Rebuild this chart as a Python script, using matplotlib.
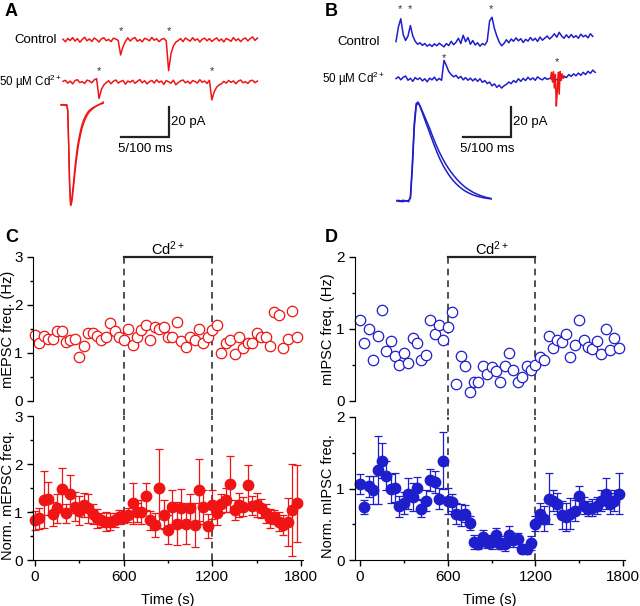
import numpy as np
import matplotlib.pyplot as plt

plt.rcParams['font.family'] = ['Liberation Sans', 'DejaVu Sans']
plt.rcParams['mathtext.fontset'] = 'custom'
plt.rcParams['mathtext.rm'] = 'Liberation Sans'
plt.rcParams['mathtext.default'] = 'regular'

RED = '#f01414'
BLUE = '#1e1ecc'

# ---- raw traces (pA, sampled every 5 ms) ----
DT_RAW = 5.0
a_ctrl = [0.5, -1.2, 1.0, -0.4, 1.6, -0.8, 0.9, -1.5, 0.3, 1.8, -0.6, 0.7, -1.0, 1.3, 0.2, -1.4,
          0.8, 1.5, -0.5, 0.4, -1.1, 1.2, 0.6, -0.3, -10.0, -4.5, -1.0, 1.4, -0.7, 0.9, 1.6, -0.9,
          0.3, -1.3, 1.1, 0.5, -0.6, 1.7, -0.2, 0.8, -1.2, 0.4, 1.0, -0.5, -20.5, -9.0, -4.0, -1.5,
          -0.4, 0.9, -1.1, 1.3, 0.2, -0.8, 1.5, -0.3, 0.7, -1.4, 0.5, 1.2, -0.6, 0.9, -1.0, 0.3,
          1.4, -0.7, 0.6, -1.3, 1.0, 0.2, -0.9, 1.6, -0.4, 0.8, -1.1, 0.5, 1.3, -0.6, 0.9, 2.0,
          -0.3, 1.2]
a_cd = [0.4, 1.1, -0.8, 0.6, -1.3, 0.9, 1.5, -0.4, 0.2, -1.0, 1.2, 0.7, -0.6, 1.4, 2.2, -11.0,
        -5.0, -2.0, -0.5, 0.8, -1.2, 0.5, 1.3, -0.7, 0.3, 1.0, -1.5, 0.6, -0.2, 1.1, -0.9, 0.4,
        1.6, -0.5, 0.8, -1.3, 0.2, 1.0, -0.7, 1.4, -0.3, 0.6, -1.6, 0.9, 0.1, -0.8, 1.2, -1.9,
        -0.4, 0.7, 1.3, -0.6, 0.5, -1.1, 0.9, 0.3, -0.7, 1.5, -0.2, 0.6, -1.0, 1.1, -12.0, -6.5,
        -3.5, -2.0, -1.2, 0.4, -0.8, 1.0, -0.3, 0.7, -1.2, 0.5, 1.3, -0.6, 0.2, -1.0, 0.8, 1.1,
        -0.5, 0.6]
a_ctrl_stars = [120, 220]
a_cd_stars = [75, 310]

b_ctrl = [0.3, 10, 15.5, 5, 1, 4, 11, 4, 0.5, -1.5, -0.5, -2.2, -1, -2.8, -1.5, -3, -1.2, -2.5,
          -0.8, -2, -3.2, -1, -2.4, 0.5, -1.8, -0.2, 2.5, -1, 4.5, 0.2, 3, -1.5, 1, -2, -0.5,
          -2.8, -1, -2, 0.5, 14, 16.5, 9, 4, 0, -2.5, -1, 1.5, -0.5, 2, 0.5, 2.8, 0.8, 2.2, -0.3,
          1.8, 0.6, 3, 1, 2.5, 0.4, 3.3, 1.2, 2.6, 4, 2, 3.5, 5.5, 3.2, 6.5, 4, 2.5, 4.8, 2.8, 5,
          3, 4.2, 2.5, 5.2, 3.5, 4.5, 2.8, 5.5, 3.8]
b_cd = [0.3, 1.5, -0.5, 1.2, 2, -0.8, 0.5, -1.5, 1, -0.3, 0.8, -1.2, 0.2, -1.8, 0.6, -0.5, 1.3,
        -1, 0.4, -0.8, 12.5, 9, 5, 3, 1.5, 2.5, 0.5, 1.8, -0.5, 1, -0.8, 0.6, -1.2, 0.3, -1.5,
        0.2, -2.2, -1, -3, -2, -4.5, -3.2, -5.5, -4, -6, -4.5, -3.5, -2, -3, -1, -2.2, 0.2, -1.5,
        0.5, -1, 1.2, -0.5, 0.8, -0.8, 1.5, 0.2, -0.5, 1, -0.2, 0.5, 0, 0.5, -0.5, 0.3, 0.8, 2,
        1, 3, 1.8, 3.5, 2.2, 4, 2.5, 4.5, 3, 5.2, 3.8, 6, 4.5]
b_ctrl_stars = [8, 29, 198]
b_cd_stars = [100]
# red (mEPSC) piece inside the Cd trace, 2 ms samples from 322 ms
b_red_t0 = 322
b_red = [0.5, 4.5, -2, 5, -6, 3, -18, -8, 4.5, -10, 5, -1, 3.5, 0.5, 1]

# ---- averaged events ----
a_avg1 = [0.3, -0.2, 0.1, 0.4, -0.3, 0.2, 0, -3, -25, -52, -66, -64, -58, -52, -45, -39, -33.5,
          -28.5, -24.5, -21, -18, -15.3, -13, -11, -9.3, -7.9, -6.7, -5.6, -4.7, -3.9, -3.3,
          -2.8, -2.3, -1.9, -1.5, -1.1, -0.8, -0.5, -0.2, 0.1, 0.4, 0.8, 1.1, 1.5, 2.0]
a_avg2 = [0.1, 0.3, -0.2, 0.2, 0.0, -0.3, 0.2, -4, -28, -55, -67, -65.5, -61, -55, -48.5, -42.5,
          -37, -32, -27.5, -24, -20.8, -17.8, -15.3, -13.2, -11.4, -9.8, -8.4, -7.2, -6.1,
          -5.2, -4.4, -3.7, -3.1, -2.5, -2.0, -1.5, -1.1, -0.7, -0.3, 0.0, 0.3, 0.6, 0.8, 1.0, 1.2]
b_avg1 = [0, 0.5, -0.4, 0.6, -0.2, 0.3, -0.5, 3, 25, 52, 65, 66, 63, 59.5, 56, 52.5, 49, 45.5,
          42, 38.5, 35.2, 32, 29, 26.3, 23.8, 21.5, 19.4, 17.5, 15.7, 14.1, 12.6, 11.3, 10.1,
          9.0, 8.0, 7.1, 6.3, 5.6, 5.0, 4.4, 3.9, 3.5, 3.1, 2.8, 2.5, 2.2, 2.0, 1.8, 1.6, 1.4]
b_avg2 = [0.4, -0.3, 0.2, -0.5, 0.4, -0.1, 0.2, 2, 22, 49, 63.5, 65.5, 63.5, 60.5, 57.5, 54.5,
          51.5, 48.5, 45, 41.8, 38.6, 35.6, 32.8, 30.2, 27.8, 25.5, 23.4, 21.4, 19.6, 17.9, 16.3,
          14.8, 13.4, 12.1, 10.9, 9.8, 8.8, 7.9, 7.1, 6.3, 5.6, 5.0, 4.4, 3.9, 3.4, 3.0, 2.6,
          2.3, 2.0, 1.7]

# ---- frequency time courses (30 s bins) ----
time = np.arange(0, 1800, 30)
mepsc_freq = [1.375, 1.20, 1.35, 1.3, 1.3, 1.45, 1.46, 1.22, 1.28, 1.3, 0.92, 1.15, 1.42, 1.41,
              1.35, 1.27, 1.34, 1.62, 1.45, 1.34, 1.27, 1.51, 1.17, 1.34, 1.48, 1.58, 1.27, 1.55,
              1.51, 1.55, 1.34, 1.34, 1.65, 1.24, 1.12, 1.34, 1.27, 1.51, 1.2, 1.34, 1.48, 1.58,
              1.0, 1.2, 1.27, 0.98, 1.34, 1.1, 1.2, 1.2, 1.41, 1.34, 1.33, 1.15, 1.86, 1.79, 1.1,
              1.3, 1.875, 1.34]
mepsc_norm = [0.83, 0.87, 1.26, 1.28, 0.96, 1.08, 1.47, 0.97, 1.38, 1.11, 1.03, 1.15, 1.08, 0.96,
              0.87, 0.83, 0.8, 0.8, 0.83, 0.9, 0.9, 0.94, 1.18, 0.99, 1.0, 1.33, 0.83, 0.73, 1.49,
              0.94, 0.63, 1.11, 0.76, 1.08, 0.76, 1.08, 0.73, 1.46, 1.11, 0.71, 1.15, 0.97, 1.17,
              1.25, 1.58, 1.04, 1.15, 1.11, 1.56, 1.13, 1.15, 1.08, 0.97, 0.87, 0.9, 0.8, 0.73,
              0.8, 1.04, 1.18]
mepsc_err = [0.2, 0.22, 0.6, 0.35, 0.25, 0.3, 0.45, 0.2, 0.4, 0.3, 0.3, 0.25, 0.3, 0.2, 0.2, 0.15,
             0.2, 0.18, 0.15, 0.15, 0.12, 0.15, 0.42, 0.2, 0.25, 0.28, 0.2, 0.25, 0.82, 0.3, 0.3,
             0.35, 0.45, 0.4, 0.42, 0.3, 0.45, 0.65, 0.35, 0.25, 0.3, 0.25, 0.2, 0.25, 0.58, 0.2,
             0.25, 0.2, 0.42, 0.2, 0.25, 0.2, 0.2, 0.2, 0.15, 0.2, 0.2, 0.5, 0.95, 0.8]
mipsc_freq = [1.13, 0.80, 1.0, 0.57, 0.9, 1.26, 0.69, 0.83, 0.62, 0.5, 0.67, 0.53, 0.87, 0.8,
              0.57, 0.64, 1.13, 0.93, 1.06, 0.85, 1.03, 1.24, 0.24, 0.62, 0.48, 0.12, 0.27, 0.27,
              0.48, 0.38, 0.47, 0.41, 0.27, 0.48, 0.66, 0.43, 0.27, 0.34, 0.48, 0.43, 0.5, 0.61,
              0.57, 0.9, 0.73, 0.85, 0.82, 0.93, 0.61, 0.78, 1.12, 0.85, 0.75, 0.72, 0.84, 0.65,
              1.0, 0.71, 0.87, 0.73]
mipsc_norm = [1.06, 0.74, 1.03, 0.98, 1.26, 1.39, 1.18, 1.0, 1.01, 0.75, 0.8, 0.93, 0.88, 1.01,
              0.72, 0.83, 1.12, 1.09, 0.86, 1.39, 0.83, 0.81, 0.65, 0.63, 0.65, 0.52, 0.25, 0.23,
              0.32, 0.25, 0.25, 0.35, 0.23, 0.23, 0.35, 0.28, 0.3, 0.16, 0.15, 0.24, 0.51, 0.65,
              0.58, 0.86, 0.83, 0.79, 0.63, 0.6, 0.65, 0.69, 0.89, 0.76, 0.72, 0.73, 0.76, 0.83,
              0.93, 0.79, 0.83, 0.93]
mipsc_err = [0.14, 0.1, 0.15, 0.2, 0.48, 0.24, 0.2, 0.2, 0.2, 0.15, 0.15, 0.22, 0.2, 0.15, 0.12,
             0.15, 0.15, 0.15, 0.15, 0.4, 0.18, 0.12, 0.15, 0.15, 0.12, 0.1, 0.1, 0.08, 0.1, 0.08,
             0.1, 0.1, 0.08, 0.1, 0.12, 0.1, 0.08, 0.06, 0.06, 0.1, 0.1, 0.15, 0.18, 0.35, 0.15,
             0.15, 0.2, 0.2, 0.22, 0.15, 0.15, 0.12, 0.1, 0.12, 0.12, 0.15, 0.22, 0.15, 0.15, 0.28]

CD_START, CD_END = 600, 1200
CD_TEXT = 'Cd$^{2+}$'

W, H = 640, 606
fig = plt.figure(figsize=(W / 100, H / 100), dpi=100)


def box(x0, y0, x1, y1):
    # axes placed by pixel edges (top-left origin)
    return fig.add_axes([x0 / W, 1 - y1 / H, (x1 - x0) / W, (y1 - y0) / H])


def star(ax, t, y):
    ax.text(t, y, '*', ha='center', va='center', fontsize=8, color='#333333')


def raw_panel(ax, ctrl, cd, cd_off, color, ctrl_stars, cd_stars, star_dy, bar_x, bar_y, lab_x):
    t1 = np.arange(len(ctrl)) * DT_RAW
    t2 = np.arange(len(cd)) * DT_RAW
    ax.plot(t1, ctrl, color=color, lw=1.1)
    ax.plot(t2, np.array(cd) + cd_off, color=color, lw=1.1)
    for t in ctrl_stars:
        star(ax, t, star_dy[0])
    for t in cd_stars:
        star(ax, t, cd_off + star_dy[1])
    # scale bar: 100 ms / 20 pA
    ax.plot([bar_x, bar_x + 100, bar_x + 100], [bar_y, bar_y, bar_y + 20], color='#222222', lw=1.6,
            solid_joinstyle='miter')
    ax.text(bar_x + 104, bar_y + 10, '20 pA', fontsize=9.5, va='center', ha='left')
    ax.text(bar_x + 50, bar_y - 4, '5/100 ms', fontsize=9.5, va='top', ha='center')
    ax.text(lab_x[0], 0, 'Control', fontsize=9.5, ha='right', va='center')
    ax.text(lab_x[1], cd_off, '50 µM ' + CD_TEXT, fontsize=8.4, ha='right', va='center')
    ax.axis('off')


# A
axA = box(55, 20, 265, 140)
axA.set_xlim(-16.7, 420.8)
axA.set_ylim(-66.7, 13.3)
raw_panel(axA, a_ctrl, a_cd, -28, RED, a_ctrl_stars, a_cd_stars, (6, 7),
          121, -64.7, (-12.5, -1.5))
axAa = box(55, 95, 115, 215)
axAa.set_xlim(-0.625, 5.625)
axAa.set_ylim(-73.3, 6.67)
axAa.plot(np.arange(len(a_avg1)) * 0.1, a_avg1, color=RED, lw=1)
axAa.plot(np.arange(len(a_avg2)) * 0.1, a_avg2, color=RED, lw=1)
axAa.axis('off')

# B
axB = box(385, 0, 600, 140)
axB.set_xlim(-22.9, 425)
axB.set_ylim(-65.3, 28)
raw_panel(axB, b_ctrl, b_cd, -24.7, BLUE, b_ctrl_stars, b_cd_stars, (22, 14),
          140, -63.3, (-33, -23))
axB.plot(b_red_t0 + np.arange(len(b_red)) * 2.0, np.array(b_red) - 24.7, color=RED, lw=1.1)
star(axB, b_red_t0 + 14, -24.7 + 11)
axBa = box(385, 95, 500, 215)
axBa.set_xlim(-1.25, 10.73)
axBa.set_ylim(-9.3, 70.7)
axBa.plot(np.arange(len(b_avg1)) * 0.2, b_avg1, color=BLUE, lw=1.1)
axBa.plot(np.arange(len(b_avg2)) * 0.2, b_avg2, color=BLUE, lw=1.1)
axBa.axis('off')


def style(ax, top, ymax):
    for s in ['top', 'right']:
        ax.spines[s].set_visible(False)
    ax.set_ylim(0, ymax)
    ax.set_yticks(np.arange(0, ymax + 0.1, 1))
    ax.set_yticks(np.arange(0.5, ymax, 1), minor=True)
    ax.tick_params(direction='out', labelsize=11, length=4, width=1)
    ax.tick_params(which='minor', direction='out', length=2.5, width=1)
    if top:
        ax.spines['bottom'].set_visible(False)
        ax.set_xticks([])
    else:
        ax.set_xticks([0, 600, 1200, 1800])
        ax.set_xticks([300, 900, 1500], minor=True)
        ax.set_xlabel('Time (s)', fontsize=10.5, labelpad=6)


def cd_marks(ax_top, ax_bot, ymax, gap):
    ax_top.plot([CD_START, CD_END], [ymax, ymax], color='#222222', lw=1.6, clip_on=False)
    ax_top.text((CD_START + CD_END) / 2, ymax * 1.06, CD_TEXT, ha='center', va='center', fontsize=10.5)
    for x in (CD_START, CD_END):
        ax_top.plot([x, x], [ymax, -gap], color='#333333', lw=1.2, ls=(0, (4, 3)), clip_on=False)
        ax_bot.axvline(x, color='#333333', lw=1.2, ls=(0, (4, 3)))


# C
axC1 = box(33, 257, 303, 401)
axC2 = box(33, 416, 303, 560)
for ax in (axC1, axC2):
    ax.set_xlim(-13.5, 1813.5)
style(axC1, True, 3)
style(axC2, False, 3)
cd_marks(axC1, axC2, 3, 0.32)
axC1.plot(time, mepsc_freq, 'o', ms=7.5, mfc='white', mec=RED, mew=0.9, clip_on=False)
axC2.errorbar(time, mepsc_norm, yerr=mepsc_err, fmt='o', color=RED, ms=7.5, capsize=3,
              elinewidth=0.9, capthick=0.9, clip_on=False)
axC1.set_ylabel('mEPSC freq. (Hz)', fontsize=10.5)
axC2.set_ylabel('Norm. mEPSC freq.', fontsize=10.5)
axC1.yaxis.set_label_coords(-0.067, 0.5)
axC2.yaxis.set_label_coords(-0.067, 0.45)

# D
axD1 = box(355, 257, 625, 401)
axD2 = box(355, 417, 625, 560)
for ax in (axD1, axD2):
    ax.set_xlim(-34, 1813)
style(axD1, True, 2)
style(axD2, False, 2)
cd_marks(axD1, axD2, 2, 0.22)
axD1.plot(time, mipsc_freq, 'o', ms=7.5, mfc='white', mec=BLUE, mew=0.9, clip_on=False)
axD2.errorbar(time, mipsc_norm, yerr=mipsc_err, fmt='o', color=BLUE, ms=7.5, capsize=3,
              elinewidth=0.9, capthick=0.9, clip_on=False)
axD1.set_ylabel('mIPSC freq. (Hz)', fontsize=10.5)
axD2.set_ylabel('Norm. mIPSC freq.', fontsize=10.5)
axD1.yaxis.set_label_coords(-0.074, 0.5)
axD2.yaxis.set_label_coords(-0.074, 0.45)

for lab, x, y in [('A', 5, 12), ('B', 325, 12), ('C', 5, 238), ('D', 325, 238)]:
    fig.text(x / W, 1 - y / H, lab, fontsize=13, fontweight='bold', va='center', ha='left')

fig.savefig('out.png', dpi=100)
